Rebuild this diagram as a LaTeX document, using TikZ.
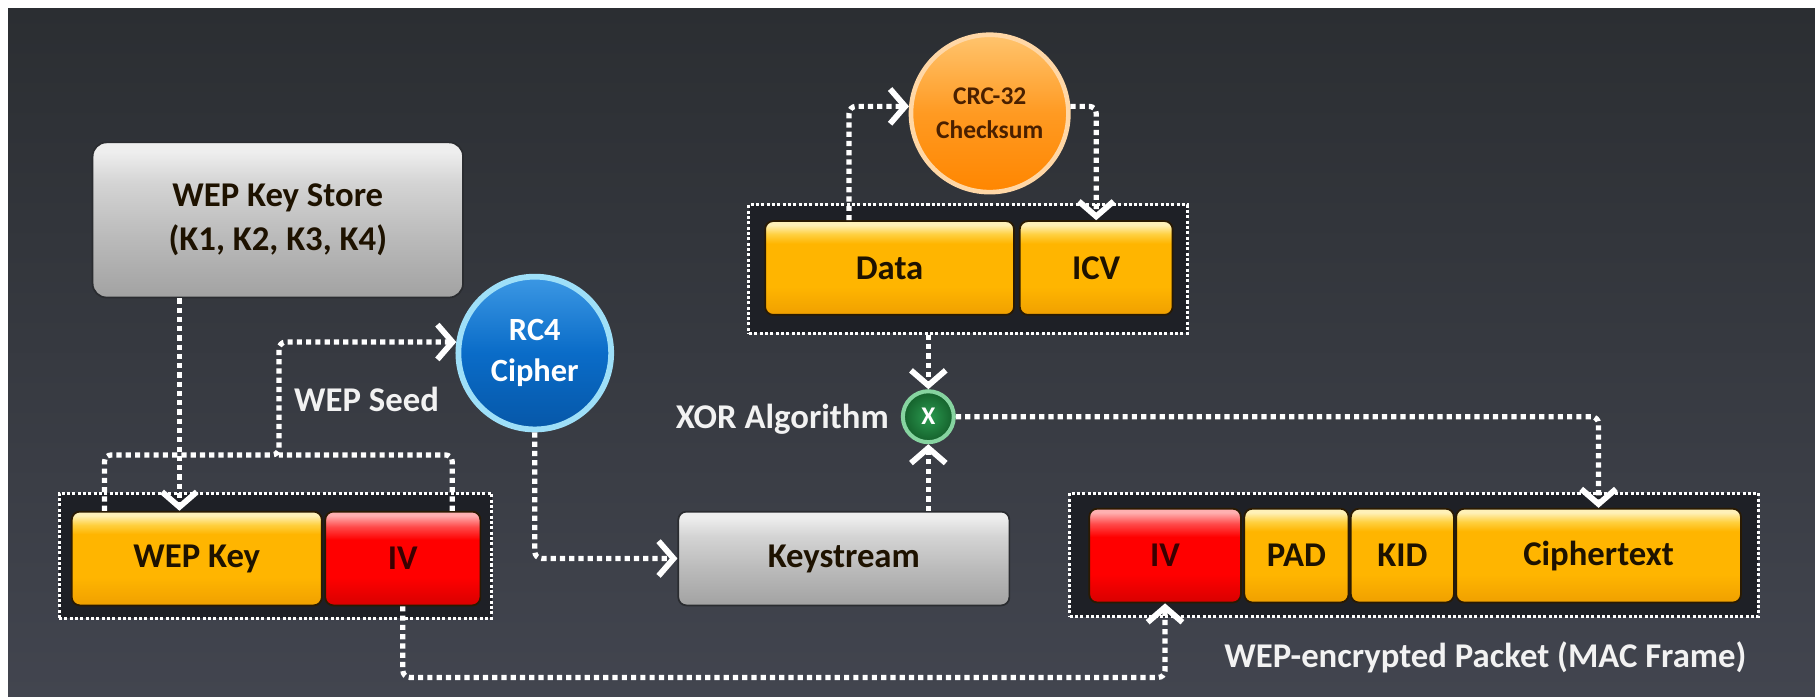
\documentclass[tikz,border=0pt]{standalone}
\usepackage{fontspec}
\setmainfont{Carlito}
\usetikzlibrary{arrows.meta,calc}

% palette
\definecolor{bgTop}{HTML}{2B2E32}
\definecolor{bgBot}{HTML}{42454F}
\definecolor{yB}{HTML}{F0A000}
\definecolor{yM}{HTML}{FFB500}
\definecolor{yH}{HTML}{FFD040}
\definecolor{yT}{HTML}{FFF1B8}
\definecolor{rB}{HTML}{D80000}
\definecolor{rM}{HTML}{FF0000}
\definecolor{rH}{HTML}{FF4A4A}
\definecolor{rT}{HTML}{FFB0B0}
\definecolor{gB}{HTML}{A2A2A2}
\definecolor{gM}{HTML}{BBBBBB}
\definecolor{gH}{HTML}{D4D4D4}
\definecolor{gT}{HTML}{EEEEEE}
\definecolor{segEdge}{HTML}{2A1A02}
\definecolor{grayEdge}{HTML}{2A2C30}
\definecolor{segText}{HTML}{1E1200}
\definecolor{ivText}{HTML}{3A0000}
\definecolor{grpFill}{HTML}{1E2026}
\definecolor{tagText}{HTML}{F2F2F2}
\definecolor{rcRing}{HTML}{9EDFF8}
\definecolor{rcTop}{HTML}{3C98E4}
\definecolor{rcMid}{HTML}{0A6CC8}
\definecolor{rcBot}{HTML}{0657A8}
\definecolor{crcRing}{HTML}{FFD7A6}
\definecolor{crcTop}{HTML}{FFC46E}
\definecolor{crcMid}{HTML}{FF9A22}
\definecolor{crcBot}{HTML}{FF8600}
\definecolor{crcText}{HTML}{4A2000}
\definecolor{xorRing}{HTML}{86D4A0}
\definecolor{xorIn}{HTML}{2B9A50}
\definecolor{xorOut}{HTML}{14602B}

% glossy fills for the packet fields
\pgfdeclareverticalshading{glossY}{100bp}{color(0bp)=(yB); color(25bp)=(yB); color(40bp)=(yM); color(63bp)=(yM); color(68bp)=(yH); color(73bp)=(yT); color(75bp)=(yT); color(100bp)=(yT)}
\pgfdeclareverticalshading{glossR}{100bp}{color(0bp)=(rB); color(25bp)=(rB); color(40bp)=(rM); color(60bp)=(rM); color(67bp)=(rH); color(73bp)=(rT); color(75bp)=(rT); color(100bp)=(rT)}
\pgfdeclareverticalshading{glossG}{100bp}{color(0bp)=(gB); color(25bp)=(gB); color(45bp)=(gM); color(62bp)=(gH); color(72bp)=(gT); color(75bp)=(gT); color(100bp)=(gT)}

\begin{document}
\begin{tikzpicture}[x=1pt,y=-1pt,font=\bfseries,
  conn/.style={draw=white,line width=4.5pt,dash pattern=on 4.5pt off 3.5pt,rounded corners=6pt,
    -{Straight Barb[length=13pt,width=30pt,line width=5pt]}},
  wire/.style={draw=white,line width=4.5pt,dash pattern=on 4.5pt off 3.5pt,rounded corners=6pt},
  grpbox/.style={rectangle,draw=white,line width=2.6pt,dash pattern=on 2.6pt off 2pt,fill=grpFill,inner sep=0pt},
  seg/.style={rectangle,rounded corners=7pt,draw=segEdge,line width=1.5pt,inner sep=0pt,
    minimum height=81pt,font=\fontsize{30}{36}\bfseries\selectfont,text=segText},
  yseg/.style={seg,shade,shading=glossY},
  rseg/.style={seg,shade,shading=glossR,text=ivText},
  gseg/.style={seg,shade,shading=glossG,draw=grayEdge},
  lbl/.style={text=tagText,font=\fontsize{30}{36}\bfseries\selectfont,inner sep=0pt},
  disc/.style={circle,inner sep=0pt,align=center}
]
% canvas
\fill[white] (0,0) rectangle (1568,602);
\shade[top color=bgTop,bottom color=bgBot] (7,7) rectangle (1568,602);
\useasboundingbox (0,0) rectangle (1568,602);

% dotted frames around the packets
\node[grpbox,minimum width=374pt,minimum height=108pt] (lgroup) at (238,480) {};
\node[grpbox,minimum width=379pt,minimum height=111pt] (tgroup) at (836.5,232.5) {};
\node[grpbox,minimum width=595pt,minimum height=107pt] (rgroup) at (1221.5,479.5) {};

% fields
\node[yseg,minimum width=216pt] (wepkey) at (170,482.5) {WEP Key};
\node[rseg,minimum width=134pt] (iv1) at (348,482.5) {IV};
\node[gseg,minimum width=286pt] (ks) at (729,482.5) {Keystream};
\node[yseg,minimum width=215pt] (data) at (768.5,231.5) {Data};
\node[yseg,minimum width=132pt] (icv) at (947,231.5) {ICV};
\node[rseg,minimum width=131pt] (iv2) at (1006.5,480) {IV};
\node[yseg,minimum width=90pt] (pad) at (1120,480) {PAD};
\node[yseg,minimum width=89pt] (kid) at (1211.5,480) {KID};
\node[yseg,minimum width=246pt] (ctext) at (1381,480) {Ciphertext};
\node[gseg,minimum width=320pt,minimum height=134pt,rounded corners=12pt,align=center,
  font=\fontsize{30}{38}\bfseries\selectfont] (store) at (240,190) {WEP Key Store\\(K1, K2, K3, K4)};

% round operators
\node[disc,minimum size=132pt,draw=rcRing,line width=5pt,top color=rcTop,bottom color=rcBot,middle color=rcMid,
  text=white,font=\fontsize{28}{36}\bfseries\selectfont] (rc4) at (462,305) {RC4\\Cipher};
\node[disc,minimum size=136pt,draw=crcRing,line width=4pt,top color=crcTop,bottom color=crcBot,middle color=crcMid,
  text=crcText,font=\fontsize{22}{29}\bfseries\selectfont] (crc) at (855,98) {CRC-32\\Checksum};
\node[disc,minimum size=44pt,draw=xorRing,line width=3.5pt,inner color=xorIn,outer color=xorOut,
  text=white,font=\fontsize{22}{24}\bfseries\selectfont] (xor) at (802,360) {X};

% labels
\node[lbl,anchor=west] (seedlbl) at (254,345) {WEP Seed};
\node[lbl,anchor=east] (xorlbl) at (768,362) {XOR Algorithm};
\node[lbl,anchor=east] (pktlbl) at (1509,568) {WEP-encrypted Packet (MAC Frame)};

% flows
\coordinate (seed) at (241,393);
\draw[conn] ($(wepkey.north |- store.south)+(-15,0)$) -- ($(wepkey.north)+(-15,0)$);
\draw[conn] ($(wepkey.north west)+(29,0)$) |- (seed) |- (rc4.172);
\draw[wire] ($(iv1.north east)+(-25,0)$) |- (seed);
\draw[conn] (rc4.south) |- (ks.west);
\draw[conn] (xor.south |- ks.north) -- (xor.south);
\draw[conn] (xor.north |- tgroup.south) -- (xor.north);
\draw[conn] (xor.east) -| (ctext.north);
\draw[conn] ($(data.north)+(-35,0)$) |- (crc.175);
\draw[conn] (crc.5) -| (icv.north);
\draw[conn] (iv1.south) |- ($(iv2.south)+(0,64)$) -- (iv2.south);
\end{tikzpicture}
\end{document}
